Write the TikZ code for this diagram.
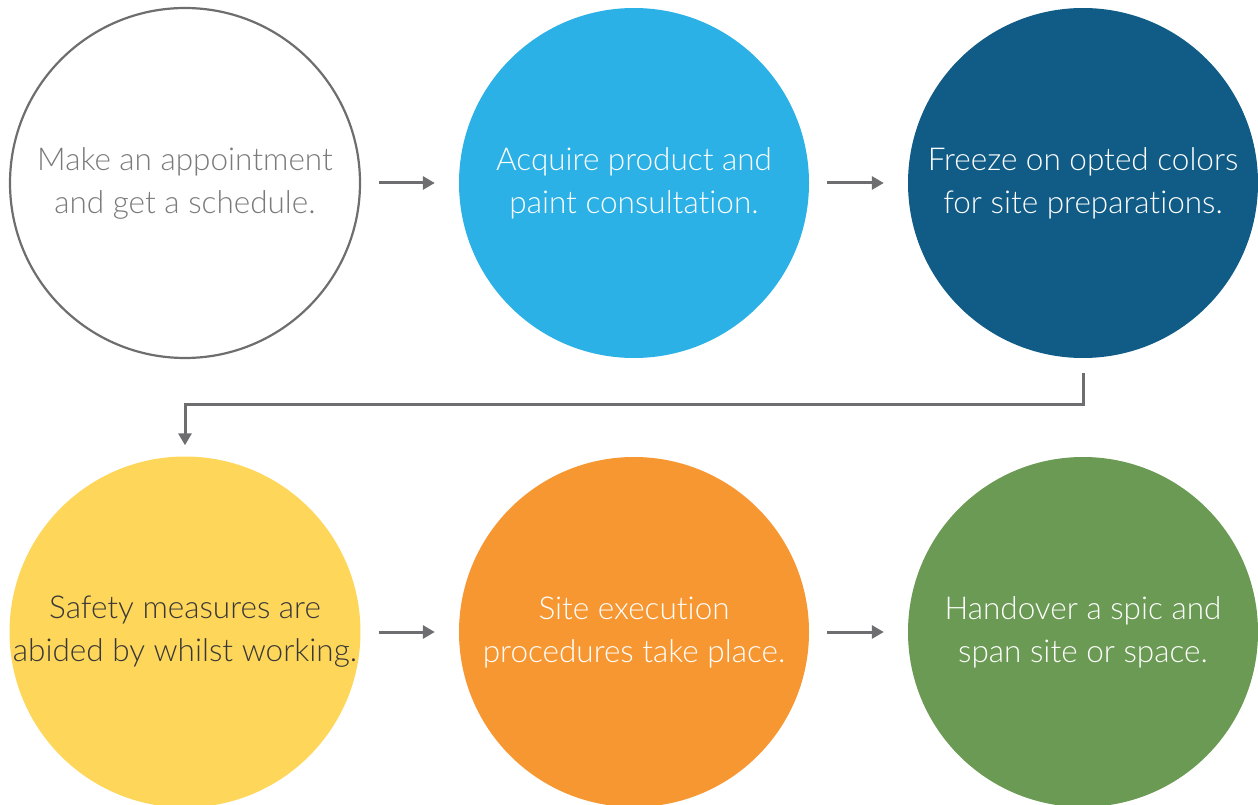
\documentclass[tikz,border=0pt]{standalone}
\usepackage{fontspec}
\setmainfont{Lato}[UprightFont=* Light, Ligatures=NoCommon]
\usetikzlibrary{arrows.meta,positioning}
\definecolor{lineGrey}{HTML}{6E6E70}
\definecolor{textGrey}{HTML}{7A7A7A}
\definecolor{skyBlue}{HTML}{2BB1E6}
\definecolor{deepBlue}{HTML}{115C86}
\definecolor{sunYellow}{HTML}{FED65A}
\definecolor{paintOrange}{HTML}{F79732}
\definecolor{leafGreen}{HTML}{6A9A53}
\tikzset{
  basic/.style  = {circle, minimum size=350pt, inner sep=0pt, align=center,
                   font=\fontsize{31.5}{43}\selectfont},
  outline/.style = {basic, draw=lineGrey, line width=2.2pt, text=textGrey},
  filled/.style  = {basic, text=white},
  link/.style    = {-{Triangle[length=12pt,width=13pt]}, draw=lineGrey,
                   line width=3pt}
}
\begin{document}
\begin{tikzpicture}[x=1pt, y=-1pt]
  \useasboundingbox (0,0) rectangle (1258,805);

  % first row of steps
  \node[outline] (c1) at (185,183) {Make an appointment\\and get a schedule.};
  \node[filled, fill=skyBlue] (c2) at (634,183) {Acquire product and\\paint consultation.};
  \node[filled, fill=deepBlue] (c3) at (1083,183) {Freeze on opted colors\\for site preparations.};

  % second row of steps
  \node[basic, fill=sunYellow, text=black!78] (c4) at (185,632) {Safety measures are\\abided by whilst working.};
  \node[filled, fill=paintOrange] (c5) at (634,632) {Site execution\\procedures take place.};
  \node[filled, fill=leafGreen] (c6) at (1083,632) {Handover a spic and\\span site or space.};

  % arrows between neighbours in a row
  \foreach \from/\to in {c1/c2, c2/c3, c4/c5, c5/c6}
    \draw[link] ([xshift=18pt]\from.east) -- ([xshift=-24pt]\to.west);

  % turn from the first row to the second
  \coordinate (turn) at (185,404);
  \draw[link] ([yshift=-15pt]c3.south) |- (turn) -- ([yshift=11pt]c4.north);
\end{tikzpicture}
\end{document}
